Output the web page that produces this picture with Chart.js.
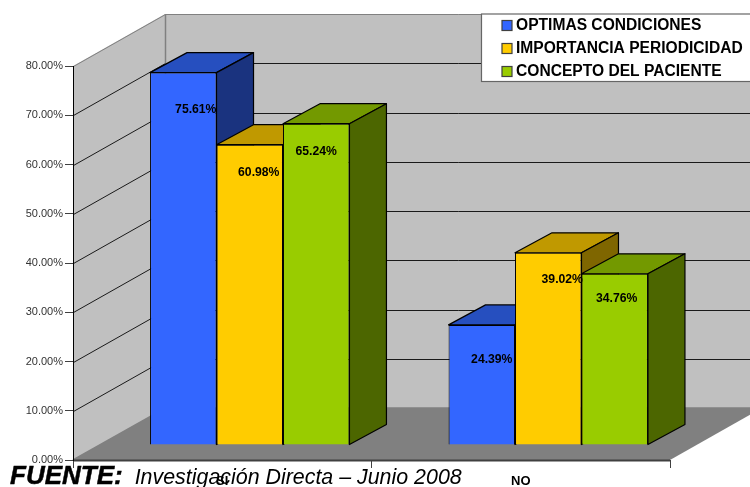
<!DOCTYPE html>
<html><head><meta charset="utf-8">
<style>
html,body{margin:0;padding:0;background:#fff;overflow:hidden}
#w{position:relative;width:750px;height:487px;overflow:hidden}
#src{position:absolute;left:10px;top:460px;white-space:nowrap;font-family:"Liberation Sans",Arial,sans-serif;font-style:italic;color:#000;line-height:30px}
#src b{font-size:26px;-webkit-text-stroke:.5px #000}
#src span{font-size:21.4px;margin-left:12px}
</style>
<script src="https://cdn.jsdelivr.net/npm/chart.js@4/dist/chart.umd.min.js"></script>
</head><body>
<div id="w"><canvas id="c" width="750" height="487"></canvas>
<div id="src"><b>FUENTE:</b><span>Investigación Directa – Junio 2008</span></div></div>
<script>
const categories = ["SI","NO"];
const optimas = [75.61, 24.39];
const importancia = [60.98, 39.02];
const concepto = [65.24, 34.76];
const seriesNames = ["OPTIMAS CONDICIONES","IMPORTANCIA PERIODICIDAD","CONCEPTO DEL PACIENTE"];
const yTicks = [0,10,20,30,40,50,60,70,80];

const FONT = '"Liberation Sans", Arial, sans-serif';
const wall = {dx:92, dy:-52};        // depth of the chart box
const barShift = {dx:27.5, dy:-15};  // front of the bars inside the box
const barDepth = {dx:37, dy:-20};    // depth of each bar
const faceColors = [
  {top:'#264FBF', side:'#1A337F'},
  {top:'#C09900', side:'#7F6600'},
  {top:'#739900', side:'#4C6600'}
];
const labelNudge = [[[12.5,37],[10,35]],[[9,28],[14,27]],[[0,28],[2,25]]];

function poly(ctx, pts, fill, stroke, lw){
  ctx.beginPath();
  pts.forEach((p,i)=> i?ctx.lineTo(p[0],p[1]):ctx.moveTo(p[0],p[1]));
  ctx.closePath();
  if(fill){ctx.fillStyle=fill;ctx.fill();}
  if(stroke){ctx.strokeStyle=stroke;ctx.lineWidth=lw||1;ctx.stroke();}
}

const box3d = {
  id:'box3d',
  beforeDraw(chart){
    const {ctx, chartArea:a, scales:{y}} = chart;
    const L=a.left,R=a.right,T=a.top,B=a.bottom,dx=wall.dx,dy=wall.dy;
    ctx.save();
    poly(ctx,[[L+dx,T+dy],[R+dx,T+dy],[R+dx,B+dy],[L+dx,B+dy]],'#C0C0C0');
    poly(ctx,[[L,T],[L+dx,T+dy],[L+dx,B+dy],[L,B]],'#C0C0C0');
    poly(ctx,[[L,B],[R,B],[R+dx,B+dy],[L+dx,B+dy]],'#808080');
    ctx.lineWidth=1;
    yTicks.slice(1).forEach(v=>{
      const py=Math.round(y.getPixelForValue(v))+.5;
      ctx.strokeStyle = v===80 ? '#808080' : '#1a1a1a';
      ctx.beginPath();ctx.moveTo(L+.5,py);ctx.lineTo(L+dx+.5,py+dy);ctx.lineTo(R+dx,py+dy);ctx.stroke();
    });
    ctx.strokeStyle='#808080';ctx.lineWidth=1.5;
    ctx.beginPath();ctx.moveTo(L+dx+.5,T+dy);ctx.lineTo(L+dx+.5,B+dy);ctx.lineTo(R+dx,B+dy);ctx.stroke();
    ctx.beginPath();ctx.moveTo(L,B);ctx.lineTo(L+dx+.5,B+dy);ctx.stroke();
    ctx.strokeStyle='#404040';ctx.lineWidth=2;
    ctx.beginPath();ctx.moveTo(L,B+.5);ctx.lineTo(R,B+.5);ctx.stroke();
    // legend panel and swatches
    ctx.fillStyle='#fff';ctx.fillRect(481.5,14,270,67.5);
    ctx.strokeStyle='#666';ctx.lineWidth=1.2;ctx.strokeRect(481.5,14,270,67.5);
    chart.data.datasets.forEach((ds,i)=>{
      ctx.fillStyle=ds.backgroundColor;ctx.fillRect(502,20.5+i*23,10,10);
      ctx.strokeStyle='#404040';ctx.lineWidth=1.2;ctx.strokeRect(502,20.5+i*23,10,10);
    });
    // place the library's legend text inside the panel
    const lg=chart.legend;
    if(lg){lg.left=500.8;lg.top=10.5;lg.right=750;lg.bottom=110;}
    ctx.restore();
  },
  beforeDatasetsDraw(chart){
    const ctx=chart.ctx,d=barDepth;
    ctx.save();ctx.translate(barShift.dx,barShift.dy);
    chart.data.datasets.forEach((ds,i)=>{
      const meta=chart.getDatasetMeta(i),c=faceColors[i];
      meta.data.forEach(bar=>{
        const l=bar.x-bar.width/2,r=bar.x+bar.width/2,t=bar.y,b=bar.base;
        ctx.lineJoin='round';
        poly(ctx,[[l,t],[r,t],[r+d.dx,t+d.dy],[l+d.dx,t+d.dy]],c.top,'#000',1.2);
        poly(ctx,[[r,t],[r+d.dx,t+d.dy],[r+d.dx,b+d.dy],[r,b]],c.side,'#000',1.2);
      });
      meta.controller.draw();
    });
    ctx.font='bold 12.2px '+FONT;ctx.fillStyle='#000';ctx.textAlign='center';ctx.textBaseline='middle';
    chart.data.datasets.forEach((ds,i)=>{
      chart.getDatasetMeta(i).data.forEach((bar,j)=>{
        ctx.fillText(ds.data[j].toFixed(2)+'%',bar.x+labelNudge[i][j][0],bar.y+labelNudge[i][j][1]);
      });
    });
    ctx.restore();
    return false;
  }
};

const arrays=[optimas,importancia,concepto];
const fills=['#3366FF','#FFCC00','#99CC00'];
new Chart(document.getElementById('c'),{
  type:'bar',
  data:{labels:categories,datasets:arrays.map((data,i)=>({
    label:seriesNames[i],data,backgroundColor:fills[i],borderColor:'#000',borderWidth:1,
    clip:false,categoryPercentage:0.668,barPercentage:1
  }))},
  options:{
    responsive:false,animation:false,
    layout:{padding:{top:66,right:80,left:0,bottom:0}},
    plugins:{
      tooltip:{enabled:false},
      legend:{display:true,position:'chartArea',align:'start',
        labels:{boxWidth:0,boxHeight:0,padding:7.4,color:'#000',
          font:{family:FONT,size:15.6,weight:'bold'},
          generateLabels(chart){
            return Chart.defaults.plugins.legend.labels.generateLabels(chart).map(l=>({...l,lineWidth:0}));
          }}}
    },
    scales:{
      x:{offset:true,
        afterFit(s){s.height=27;},
        grid:{display:true,drawOnChartArea:false,drawTicks:true,tickLength:8,color:'#404040'},
        border:{color:'#404040'},
        ticks:{color:'#000',padding:6,font:{family:FONT,size:13,weight:'bold'},maxRotation:0}},
      y:{min:0,max:80,
        afterFit(s){s.width=73;},
        afterBuildTicks(s){s.ticks=yTicks.map(v=>({value:v}));},
        grid:{drawOnChartArea:false,drawTicks:true,tickLength:8,color:'#404040'},
        border:{color:'#000'},
        ticks:{color:'#333',padding:2,font:{family:FONT,size:11},callback:v=>v.toFixed(2)+'%'}}
    }
  },
  plugins:[box3d]
});
</script>
</body></html>
